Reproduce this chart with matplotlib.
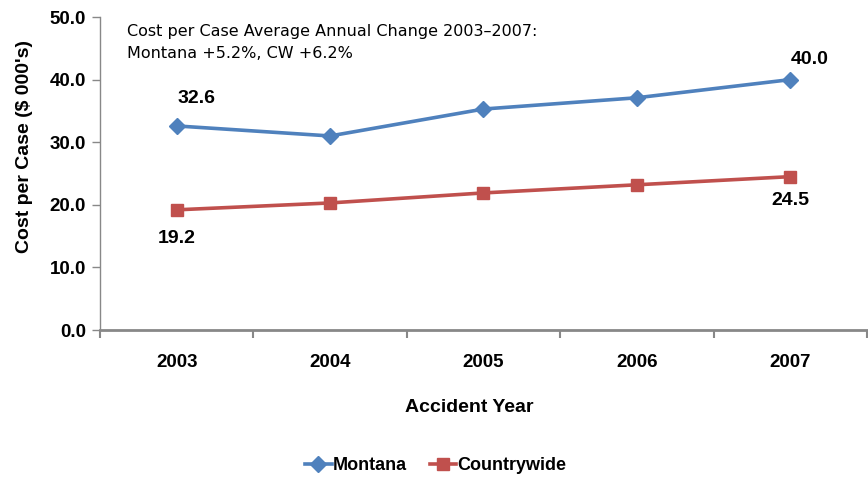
import matplotlib
matplotlib.use("Agg")
import matplotlib.pyplot as plt
from matplotlib.lines import Line2D

years = ["2003", "2004", "2005", "2006", "2007"]
montana = [32.6, 31.0, 35.3, 37.1, 40.0]
countrywide = [19.2, 20.3, 21.9, 23.2, 24.5]
y_ticks = [0, 10, 20, 30, 40, 50]

blue = "#4F81BD"
red = "#C0504D"
grey = "#888888"
bold_font = ["Liberation Sans", "DejaVu Sans"]

fig = plt.figure(figsize=(8.68, 4.79), dpi=100)
ax = fig.add_axes([0.1152, 0.311, 0.8836, 0.6535])

x = list(range(len(years)))
ax.plot(x, montana, color=blue, lw=2.6, marker="D", ms=8, label="Montana")
ax.plot(x, countrywide, color=red, lw=2.6, marker="s", ms=9, label="Countrywide")

ax.set_xlim(-0.5, len(years) - 0.5)
ax.set_ylim(0, 50)
ax.set_yticks(y_ticks)
ax.set_yticklabels([f"{v:.1f}" for v in y_ticks], fontsize=13.5,
                   fontweight="bold", family=bold_font)
ax.set_xticks(x)
ax.set_xticklabels(years, fontsize=13.5, fontweight="bold", family=bold_font)
ax.set_xticks([i - 0.5 for i in range(len(years) + 1)], minor=True)

ax.tick_params(axis="x", which="major", length=0, pad=17)
ax.tick_params(axis="x", which="minor", length=6, width=1.5, color=grey)
ax.tick_params(axis="y", length=6, width=1, color=grey, pad=4)

for side in ("top", "right"):
    ax.spines[side].set_visible(False)
ax.spines["left"].set_color(grey)
ax.spines["left"].set_linewidth(1)
ax.spines["bottom"].set_color(grey)
ax.spines["bottom"].set_linewidth(2)

ax.set_ylabel("Cost per Case ($ 000's)", fontsize=14, fontweight="bold",
              family=bold_font, va="center")
ax.yaxis.set_label_coords(-0.099, 0.585)
ax.set_xlabel("Accident Year", fontsize=14, fontweight="bold",
              family=bold_font, va="center")
ax.xaxis.set_label_coords(0.482, -0.246)

# value labels at the first and last years
lab = dict(fontsize=14, fontweight="bold", family=bold_font, ha="center", va="center")
ax.annotate(f"{montana[0]:.1f}", (x[0], montana[0]), xytext=(14, 20),
            textcoords="offset points", **lab)
ax.annotate(f"{montana[-1]:.1f}", (x[-1], montana[-1]), xytext=(14, 14.5),
            textcoords="offset points", **lab)
ax.annotate(f"{countrywide[0]:.1f}", (x[0], countrywide[0]), xytext=(0, -21),
            textcoords="offset points", **lab)
ax.annotate(f"{countrywide[-1]:.1f}", (x[-1], countrywide[-1]), xytext=(0, -17.5),
            textcoords="offset points", **lab)

ax.text(0.035, 0.977, "Cost per Case Average Annual Change 2003\u20132007:\nMontana +5.2%, CW +6.2%",
        transform=ax.transAxes, fontsize=11.5, family="DejaVu Sans",
        va="top", ha="left", linespacing=1.6)

handles = [Line2D([], [], color=blue, lw=2.6, marker="D", ms=8),
           Line2D([], [], color=red, lw=2.6, marker="s", ms=9)]
fig.legend(handles, ["Montana", "Countrywide"], loc="center",
           bbox_to_anchor=(0.502, 0.028), ncol=2, frameon=False,
           prop=dict(family=bold_font, weight="bold", size=13),
           handlelength=1.45, handletextpad=0.05, columnspacing=1.3)

fig.savefig("out.png", dpi=100)
